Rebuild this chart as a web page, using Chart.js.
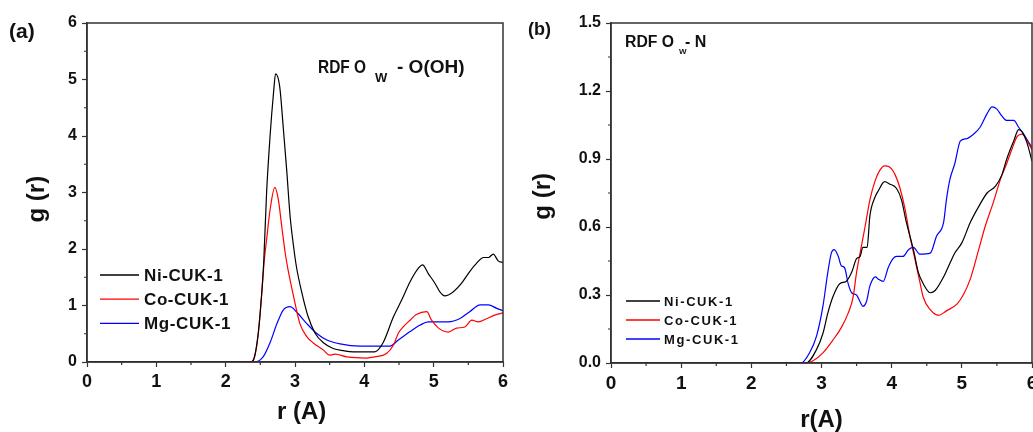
<!doctype html>
<html>
<head>
<meta charset="UTF-8">
<title>RDF CUK-1</title>
<script src="https://cdn.jsdelivr.net/npm/chart.js@4/dist/chart.umd.min.js"></script>
<style>
	body { margin: 0; background: #fff; }
	#wrap { position: relative; width: 1033px; height: 432px; overflow: hidden; }
	#ca { position: absolute; left: 0; top: 0; }
	#cb { position: absolute; left: 520px; top: 0; }
</style>
</head>
<body>
<div id="wrap">
	<canvas id="ca" width="520" height="432"></canvas>
	<canvas id="cb" width="513" height="432"></canvas>
</div>
<script>
// series labels
var names = ["Ni-CUK-1", "Co-CUK-1", "Mg-CUK-1"];
var colors = ["#000000", "#ff0000", "#0000ff"];

// x ticks for both panels
var rTicks = [0, 1, 2, 3, 4, 5, 6];
var gTicksA = [0, 1, 2, 3, 4, 5, 6];
var gTicksB = [0, 0.3, 0.6, 0.9, 1.2, 1.5];

// (a) RDF Ow - O(OH)
var rNiA = [0, 2.35, 2.40, 2.47, 2.52, 2.55, 2.59, 2.64, 2.69, 2.72, 2.78, 2.83, 2.88, 2.93, 2.98, 3.02, 3.10, 3.19, 3.29, 3.41, 3.55, 3.70, 3.84, 4.00, 4.15, 4.27, 4.42, 4.54, 4.66, 4.78, 4.84, 4.92, 5.02, 5.09, 5.16, 5.28, 5.40, 5.52, 5.62, 5.72, 5.79, 5.86, 5.93, 6.0];
var gNiA = [0, 0, 0.04, 0.51, 1.22, 1.80, 2.99, 3.99, 4.76, 5.10, 4.87, 4.16, 3.40, 2.57, 2.04, 1.69, 1.22, 0.80, 0.51, 0.34, 0.24, 0.20, 0.18, 0.18, 0.18, 0.34, 0.80, 1.10, 1.42, 1.66, 1.72, 1.57, 1.39, 1.24, 1.17, 1.24, 1.39, 1.60, 1.75, 1.85, 1.85, 1.91, 1.79, 1.76];
var rCoA = [0, 2.38, 2.42, 2.47, 2.52, 2.557, 2.59, 2.64, 2.71, 2.76, 2.81, 2.86, 2.90, 2.95, 3.0, 3.07, 3.17, 3.26, 3.41, 3.50, 3.58, 3.75, 4.03, 4.15, 4.32, 4.42, 4.49, 4.56, 4.66, 4.75, 4.90, 4.97, 5.07, 5.21, 5.33, 5.45, 5.55, 5.64, 5.77, 5.88, 6.0];
var gCoA = [0, 0, 0.10, 0.5, 1.2, 1.8, 2.16, 2.69, 3.09, 2.87, 2.39, 1.92, 1.63, 1.33, 1.04, 0.68, 0.45, 0.34, 0.21, 0.12, 0.14, 0.09, 0.07, 0.09, 0.15, 0.30, 0.51, 0.62, 0.74, 0.84, 0.89, 0.74, 0.60, 0.53, 0.60, 0.62, 0.74, 0.71, 0.77, 0.83, 0.87];
var rMgA = [0, 2.42, 2.54, 2.64, 2.74, 2.83, 2.93, 3.02, 3.17, 3.31, 3.46, 3.65, 3.94, 4.37, 4.49, 4.66, 4.80, 4.92, 5.21, 5.38, 5.52, 5.67, 5.79, 5.91, 6.0];
var gMgA = [0, 0, 0.09, 0.34, 0.68, 0.92, 0.98, 0.89, 0.68, 0.51, 0.39, 0.32, 0.28, 0.28, 0.39, 0.54, 0.65, 0.71, 0.71, 0.77, 0.89, 1.01, 1.01, 0.95, 0.91];

// (b) RDF Ow - N
var rNiB = [0, 2.78, 2.93, 3.02, 3.09, 3.16, 3.26, 3.35, 3.43, 3.50, 3.55, 3.59, 3.65, 3.69, 3.76, 3.81, 3.90, 3.97, 4.07, 4.14, 4.21, 4.31, 4.38, 4.45, 4.55, 4.62, 4.74, 4.83, 4.90, 5.0, 5.12, 5.24, 5.36, 5.48, 5.57, 5.64, 5.74, 5.81, 5.86, 5.93, 6.0];
var gNiB = [0, 0, 0.06, 0.13, 0.22, 0.29, 0.35, 0.36, 0.40, 0.46, 0.47, 0.51, 0.51, 0.65, 0.73, 0.76, 0.80, 0.79, 0.77, 0.72, 0.62, 0.50, 0.40, 0.35, 0.31, 0.32, 0.38, 0.44, 0.485, 0.53, 0.62, 0.69, 0.75, 0.78, 0.83, 0.90, 0.98, 1.03, 1.02, 0.97, 0.89];
var rCoB = [0, 2.76, 2.88, 3.02, 3.16, 3.28, 3.38, 3.45, 3.50, 3.55, 3.62, 3.69, 3.76, 3.83, 3.90, 3.97, 4.05, 4.12, 4.19, 4.26, 4.33, 4.40, 4.45, 4.55, 4.67, 4.78, 4.93, 5.02, 5.12, 5.24, 5.33, 5.45, 5.55, 5.64, 5.71, 5.79, 5.86, 5.93, 6.0];
var gCoB = [0, 0, 0.01, 0.045, 0.10, 0.155, 0.22, 0.29, 0.40, 0.485, 0.60, 0.72, 0.80, 0.85, 0.87, 0.865, 0.83, 0.77, 0.68, 0.56, 0.46, 0.36, 0.29, 0.235, 0.21, 0.23, 0.26, 0.30, 0.37, 0.50, 0.60, 0.71, 0.81, 0.88, 0.94, 1.0, 1.01, 0.98, 0.94];
var rMgB = [0, 2.71, 2.83, 2.93, 3.02, 3.09, 3.14, 3.18, 3.24, 3.28, 3.33, 3.38, 3.43, 3.50, 3.55, 3.59, 3.64, 3.69, 3.77, 3.81, 3.88, 3.95, 4.02, 4.07, 4.16, 4.24, 4.31, 4.40, 4.55, 4.64, 4.74, 4.78, 4.83, 4.90, 4.98, 5.07, 5.17, 5.26, 5.36, 5.43, 5.50, 5.57, 5.64, 5.74, 5.81, 5.88, 6.0];
var gMgB = [0, 0, 0.045, 0.12, 0.25, 0.40, 0.485, 0.50, 0.47, 0.43, 0.42, 0.35, 0.31, 0.30, 0.27, 0.25, 0.27, 0.34, 0.38, 0.37, 0.36, 0.42, 0.46, 0.47, 0.47, 0.50, 0.51, 0.48, 0.485, 0.56, 0.62, 0.72, 0.81, 0.88, 0.98, 0.99, 1.01, 1.04, 1.10, 1.13, 1.12, 1.09, 1.07, 1.07, 1.04, 1.01, 0.95];

var FONT = "'Liberation Sans', Arial, sans-serif";

function pts(r, g) {
	var out = [];
	for (var i = 0; i < r.length; i++) out.push({x: r[i], y: g[i]});
	return out;
}

function sets(list) {
	return list.map(function(s, i) {
		return {
			label: names[i],
			data: pts(s[0], s[1]),
			borderColor: colors[i],
			borderWidth: 1.2,
			pointRadius: 0,
			fill: false,
			cubicInterpolationMode: "monotone"
		};
	});
}

// frame, minor ticks, legend and the text labels
var extras = {
	id: "extras",
	afterDraw: function(chart, args, o) {
		var ctx = chart.ctx, a = chart.chartArea;
		var xs = chart.scales.x, ys = chart.scales.y;
		ctx.save();
		ctx.strokeStyle = "#333";
		ctx.lineWidth = 1.5;
		ctx.strokeRect(a.left, a.top, a.right - a.left, a.bottom - a.top);

		ctx.lineWidth = 1.2;
		ctx.beginPath();
		for (var v = xs.min + o.minorX; v < xs.max; v += 2 * o.minorX) {
			var px = xs.getPixelForValue(v);
			ctx.moveTo(px, a.bottom);
			ctx.lineTo(px, a.bottom + 3);
		}
		for (var w = ys.min + o.minorY; w < ys.max; w += 2 * o.minorY) {
			var py = ys.getPixelForValue(w);
			ctx.moveTo(a.left, py);
			ctx.lineTo(a.left - 3, py);
		}
		ctx.stroke();

		ctx.fillStyle = "#111";
		ctx.textBaseline = "middle";
		ctx.font = "bold " + o.tagSize + "px " + FONT;
		ctx.fillText(o.tag, o.tagX, o.tagY);

		// RDF title with subscript
		ctx.textBaseline = "alphabetic";
		var t = o.title;
		ctx.font = "bold " + t.size + "px " + FONT;
		ctx.fillText("RDF O", t.x, t.y, t.w);
		ctx.font = "bold " + t.subSize + "px " + FONT;
		ctx.fillText("W", t.subX, t.y + t.subDy);
		ctx.font = "bold " + t.size2 + "px " + FONT;
		ctx.fillText(t.rest, t.restX, t.y);

		// legend
		var L = o.legend;
		ctx.textBaseline = "middle";
		ctx.font = "bold " + L.size + "px " + FONT;
		if (L.spacing) ctx.letterSpacing = L.spacing;
		chart.data.datasets.forEach(function(ds, i) {
			var y = L.y + i * L.gap;
			ctx.strokeStyle = ds.borderColor;
			ctx.lineWidth = 1.3;
			ctx.beginPath();
			ctx.moveTo(L.x0, y);
			ctx.lineTo(L.x1, y);
			ctx.stroke();
			ctx.fillStyle = "#111";
			ctx.fillText(ds.label, L.tx, y + 1);
		});
		ctx.restore();
	}
};

function makeChart(id, datasets, yTicks, yFmt, o) {
	return new Chart(document.getElementById(id).getContext("2d"), {
		type: "line",
		data: { datasets: datasets },
		plugins: [extras],
		options: {
			responsive: false,
			animation: false,
			events: [],
			layout: { padding: { left: 0, top: 23, right: o.padRight, bottom: 0 } },
			plugins: { legend: { display: false }, tooltip: { enabled: false }, extras: o },
			scales: {
				x: {
					type: "linear", min: 0, max: 6,
					afterFit: function(s) { s.height = o.xH; s.paddingLeft = 0; s.paddingRight = 0; },
					afterBuildTicks: function(s) { s.ticks = rTicks.map(function(v) { return {value: v}; }); },
					grid: { drawOnChartArea: false, tickLength: 5, tickWidth: 1.2, tickColor: "#333" },
					border: { color: "#333", width: 1.5 },
					ticks: { color: "#111", padding: 4, font: { family: FONT, weight: "bold", size: o.xSize } },
					title: { display: true, text: o.xTitle, color: "#111", padding: { top: 0, bottom: o.xTitlePad },
						font: { family: FONT, weight: "bold", size: 24, lineHeight: 1 } }
				},
				y: {
					min: 0, max: yTicks[yTicks.length - 1],
					afterFit: function(s) { s.width = o.yW; s.paddingTop = 0; s.paddingBottom = 0; },
					afterBuildTicks: function(s) { s.ticks = yTicks.map(function(v) { return {value: v}; }); },
					grid: { drawOnChartArea: false, tickLength: 5, tickWidth: 1.2, tickColor: "#333" },
					border: { color: "#333", width: 1.5 },
					ticks: { color: "#111", padding: 5, callback: yFmt, font: { family: FONT, weight: "bold", size: 16 } },
					title: { display: true, text: o.yTitle, color: "#111", padding: { top: o.yTitlePad, bottom: 0 },
						font: { family: FONT, weight: "bold", size: 24, lineHeight: 1 } }
				}
			}
		}
	});
}

makeChart("ca", sets([[rNiA, gNiA], [rCoA, gCoA], [rMgA, gMgA]]), gTicksA,
	function(v) { return String(v); },
	{
		padRight: 17, xH: 70, yW: 87, xSize: 18, xTitle: "  r (A)", xTitlePad: 8,
		yTitle: "g (r)  ", yTitlePad: 25,
		minorX: 0.5, minorY: 0.5,
		tag: "(a)", tagSize: 21, tagX: 9, tagY: 32,
		title: { x: 318, y: 73, w: 48, size: 18, subSize: 13, subX: 375, subDy: 9, size2: 19, rest: "- O(OH)", restX: 397 },
		legend: { x0: 100, x1: 139, tx: 144, y: 275, gap: 24.2, size: 17, spacing: "0.6px" }
	});

makeChart("cb", sets([[rNiB, gNiB], [rCoB, gCoB], [rMgB, gMgB]]), gTicksB,
	function(v) { return v.toFixed(1); },
	{
		padRight: 1, xH: 69, yW: 91, xSize: 19, xTitle: "r(A)", xTitlePad: 0,
		yTitle: "g (r) ", yTitlePad: 11,
		minorX: 0.5, minorY: 0.15,
		tag: "(b)", tagSize: 18, tagX: 8, tagY: 30,
		title: { x: 105, y: 47, w: 49, size: 16, subSize: 8, subX: 159, subDy: 7, size2: 16, rest: "- N", restX: 165 },
		legend: { x0: 106, x1: 140, tx: 144, y: 301, gap: 19, size: 13, spacing: "1.6px" }
	});
</script>
</body>
</html>
